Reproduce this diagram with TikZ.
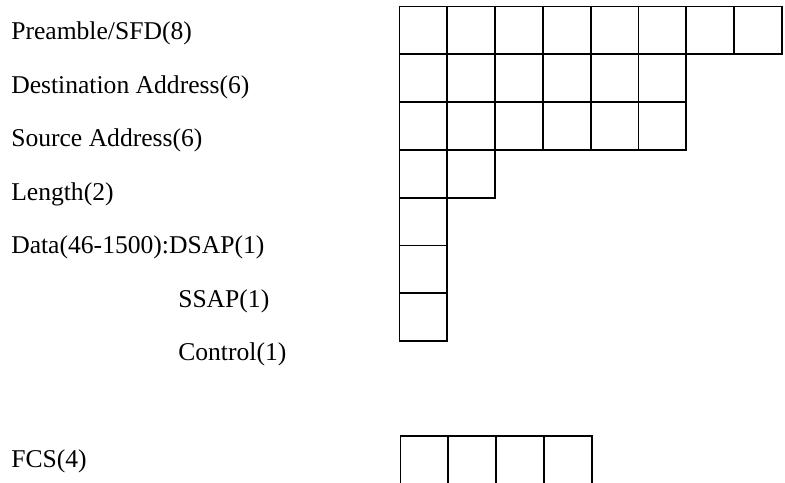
\documentclass[tikz,border=0pt]{standalone}
\usepackage{fontspec}
\setmainfont{Liberation Serif}
\begin{document}
\begin{tikzpicture}[x=0.75pt,y=-0.75pt,
    cell/.style={draw=black, line width=1.4pt, minimum size=35.85pt, inner sep=0pt, anchor=north west},
    lbl/.style={anchor=base west, inner sep=0pt, font=\fontsize{19.2}{23}\selectfont}]
    % S = side of one byte cell (px)
    \def\S{47.8}

    \useasboundingbox (0,0) rectangle (785,482);
    \clip (0,0) rectangle (785,482);

    % Macro for one row of byte cells: name, left, top, count
    \newcommand{\bytes}[4]{
        \foreach \i in {1,...,#4} {
            \node[cell] (#1-\i) at ({#2 + (\i-1)*\S}, #3) {};
        }
    }

    % Field names
    \node[lbl] (pre)  at (11,39.5)  {Preamble/SFD(8)};
    \node[lbl] (dst)  at (11,93)    {Destination Address(6)};
    \node[lbl] (src)  at (11,146.5) {Source Address(6)};
    \node[lbl] (len)  at (11,200)   {Length(2)};
    \node[lbl] (dsap) at (11,253.5) {Data(46-1500):DSAP(1)};
    \node[lbl] (ssap) at (178,307)  {SSAP(1)};
    \node[lbl] (ctl)  at (178,360.5){Control(1)};
    \node[lbl] (fcs)  at (11,467)   {FCS(4)};

    % Byte cells
    \bytes{preb}{398.5}{5.5}{8}
    \bytes{dstb}{398.5}{53.3}{6}
    \bytes{srcb}{398.5}{101.1}{6}
    \bytes{lenb}{398.5}{148.9}{2}
    \bytes{dsapb}{398.5}{196.7}{1}
    \bytes{ssapb}{398.5}{244.5}{1}
    \bytes{ctlb}{398.5}{292.3}{1}
    \bytes{fcsb}{399.5}{434.7}{4}
\end{tikzpicture}
\end{document}
